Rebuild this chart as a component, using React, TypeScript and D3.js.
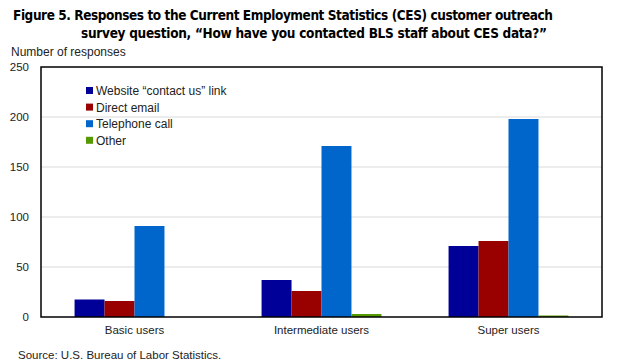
import React from "react";
import * as d3 from "d3";

// chart data
const categories = ["Basic users", "Intermediate users", "Super users"];
const seriesNames = ["Website \u201ccontact us\u201d link", "Direct email", "Telephone call", "Other"];
const website = [17.5, 37, 71];
const email = [16, 26, 76];
const telephone = [91, 171, 198];
const other = [0, 3, 1.5];
const yTicks = [0, 50, 100, 150, 200, 250];

const colors = ["#000099", "#990000", "#0066cc", "#559900"];
const allSeries = [website, email, telephone, other];

export default function App() {
  const width = 623;
  const height = 364;
  const plot = { left: 41, right: 602, top: 67, bottom: 317 };

  // group scale across the plot, bars inside each group
  const x0 = d3.scaleBand().domain(categories).range([plot.left, plot.right]);
  const x1 = d3
    .scaleBand()
    .domain(seriesNames)
    .range([0, x0.bandwidth()])
    .paddingOuter(1.12);
  const y = d3.scaleLinear().domain([0, 250]).range([plot.bottom, plot.top]);

  const font = "'Liberation Sans', Arial, sans-serif";
  const titleFont = "'DejaVu Sans Condensed', 'DejaVu Sans', sans-serif";

  return (
    <svg
      width={width}
      height={height}
      style={{ position: "absolute", left: 0, top: 0, background: "#fff" }}
      fontFamily={font}
    >
      {/* title */}
      <text x={13} y={20} fontSize={13.5} fontWeight="bold" fontFamily={titleFont} textLength={540}>
        Figure 5. Responses to the Current Employment Statistics (CES) customer outreach
      </text>
      <text x={81} y={38} fontSize={13.5} fontWeight="bold" fontFamily={titleFont} textLength={466}>
        survey question, “How have you contacted BLS staff about CES data?”
      </text>

      <text x={11} y={56} fontSize={12} fill="#222">
        Number of responses
      </text>

      {/* gridlines */}
      {yTicks.slice(1, -1).map((t) => (
        <line key={t} x1={plot.left} x2={plot.right} y1={y(t)} y2={y(t)} stroke="#d9d9d9" strokeWidth={1} />
      ))}

      {/* y tick labels */}
      {yTicks.map((t) => (
        <text key={t} x={29} y={y(t) + 4} fontSize={11.5} textAnchor="end" fill="#222">
          {t}
        </text>
      ))}

      {/* bars */}
      {categories.map((c, i) => (
        <g key={c} transform={`translate(${x0(c)},0)`}>
          {allSeries.map((s, j) => (
            <rect
              key={j}
              x={x1(seriesNames[j])}
              y={y(s[i])}
              width={x1.bandwidth()}
              height={plot.bottom - y(s[i])}
              fill={colors[j]}
            />
          ))}
        </g>
      ))}

      {/* frame */}
      <rect
        x={plot.left}
        y={plot.top}
        width={plot.right - plot.left}
        height={plot.bottom - plot.top}
        fill="none"
        stroke="#000"
        strokeWidth={1.5}
      />

      {/* category labels */}
      {categories.map((c) => (
        <text key={c} x={x0(c)! + x0.bandwidth() / 2} y={334} fontSize={11.5} textAnchor="middle" fill="#222">
          {c}
        </text>
      ))}

      {/* legend */}
      {seriesNames.map((n, j) => (
        <g key={n} transform={`translate(86,${87 + j * 16.6})`}>
          <rect x={0} y={0} width={7} height={7} fill={colors[j]} />
          <text x={10} y={8} fontSize={12} fill="#222">
            {n}
          </text>
        </g>
      ))}

      <text x={18} y={359} fontSize={11.5} fill="#222">
        Source: U.S. Bureau of Labor Statistics.
      </text>
    </svg>
  );
}
